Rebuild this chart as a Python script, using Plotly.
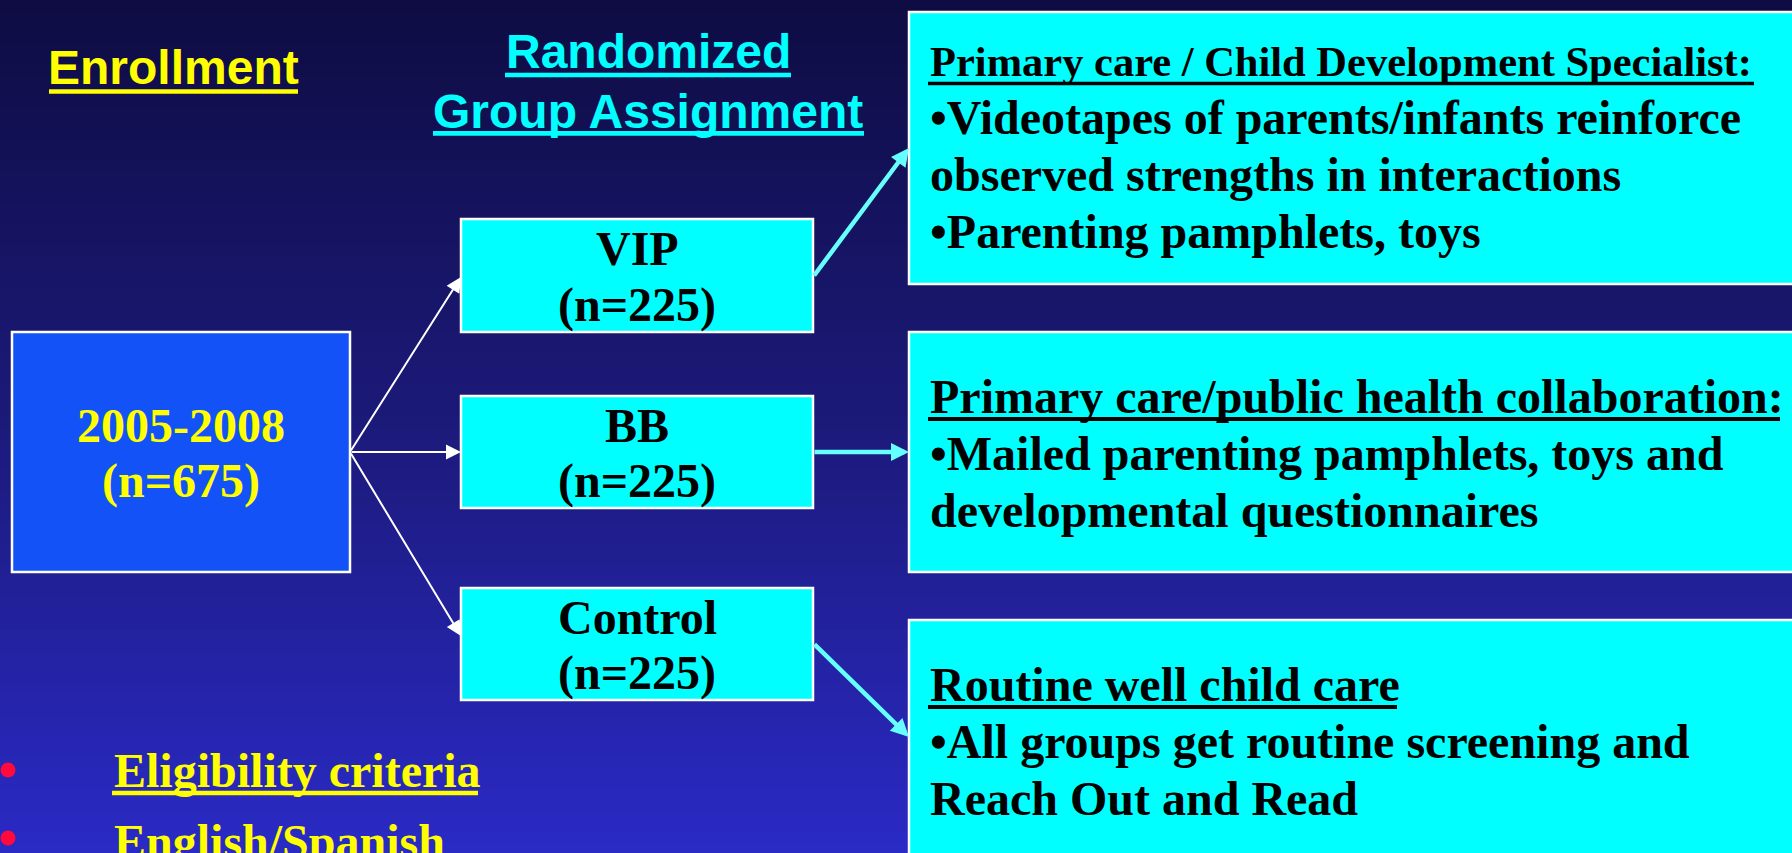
import plotly.graph_objects as go

# ---------------- data (text content) ----------------
enroll_title = "Enrollment"
assign_title = ["Randomized", "Group Assignment"]
enroll_period = "2005-2008"
enroll_n = 675
groups = ["VIP", "BB", "Control"]
group_n = [225, 225, 225]
program_titles = [
    "Primary care / Child Development Specialist:",
    "Primary care/public health collaboration:",
    "Routine well child care",
]
program_lines = [
    ["\u2022Videotapes of parents/infants reinforce",
     "observed strengths in interactions",
     "\u2022Parenting pamphlets, toys"],
    ["\u2022Mailed parenting pamphlets, toys and",
     "developmental questionnaires"],
    ["\u2022All groups get routine screening and",
     "Reach Out and Read"],
]
criteria_items = ["Eligibility criteria", "English/Spanish"]

# ---------------- layout / style constants ----------------
W, H = 1792, 853
SERIF = "Liberation Serif, Times New Roman, serif"
SANS = "Liberation Sans, Arial, sans-serif"
CYAN = "#00FFFF"
ARROW_CYAN = "#66FFFF"
YELLOW = "#FFFF00"

big_box = (12, 332, 350, 572)
mid_x = (461, 813)
mid_y = [(219, 332), (396, 508), (588, 700)]
right_x = (909, 1810)
right_y = [(12, 284), (332, 572), (620, 880)]
right_text_x = 928
title_baselines = [76, 412, 700]
title_sizes = [42.5, 48, 48]
line_step = 57

# underline decorations (x0, x1, y, thickness, color) for the underlined headings
underlines = [
    (49, 298, 91.5, 4.7, YELLOW),      # Enrollment
    (505, 791, 75.0, 4.5, CYAN),       # Randomized
    (433, 864, 133.3, 4.7, CYAN),      # Group Assignment
    (928, 1754, 83.5, 3.5, "black"),   # title 1
    (928, 1780, 419.0, 4.2, "black"),  # title 2
    (928, 1397, 707.0, 4.2, "black"),  # title 3
    (112, 478, 793.0, 4.7, YELLOW),    # Eligibility criteria
]

fig = go.Figure()
shapes = []
annotations = []

# background gradient (dark navy top -> brighter blue bottom)
top = (14, 12, 66)
mid = (28, 26, 122)
bot = (42, 42, 198)
n_strips = 80
for i in range(n_strips):
    t = (i + 0.5) / n_strips
    if t < 0.5:
        a, b, u = top, mid, t / 0.5
    else:
        a, b, u = mid, bot, (t - 0.5) / 0.5
    c = tuple(int(round(a[k] + (b[k] - a[k]) * u)) for k in range(3))
    y0 = H * i / n_strips
    y1 = H * (i + 1) / n_strips + 0.6
    shapes.append(dict(type="rect", xref="x", yref="y", x0=-5, x1=W + 5, y0=y0, y1=y1,
                       fillcolor="rgb(%d,%d,%d)" % c, line=dict(width=0), layer="below"))

# enrollment box
shapes.append(dict(type="rect", xref="x", yref="y", x0=big_box[0], x1=big_box[2],
                   y0=big_box[1], y1=big_box[3], fillcolor="#1252F6",
                   line=dict(color="white", width=2.5), layer="below"))
bcy = (big_box[1] + big_box[3]) / 2
bcx = (big_box[0] + big_box[2]) / 2
for txt, dy in [(enroll_period, -27), ("(n=%d)" % enroll_n, 29)]:
    annotations.append(dict(x=bcx, y=bcy + dy, xref="x", yref="y", text=txt, showarrow=False,
                            xanchor="center", yanchor="middle",
                            font=dict(family=SERIF, size=48, color=YELLOW, weight="bold")))

# group boxes
for g, n, (y0, y1) in zip(groups, group_n, mid_y):
    shapes.append(dict(type="rect", xref="x", yref="y", x0=mid_x[0], x1=mid_x[1], y0=y0, y1=y1,
                       fillcolor=CYAN, line=dict(color="white", width=2.5), layer="below"))
    cy = (y0 + y1) / 2
    cx = (mid_x[0] + mid_x[1]) / 2
    for txt, dy in [(g, -27), ("(n=%d)" % n, 29)]:
        annotations.append(dict(x=cx, y=cy + dy, xref="x", yref="y", text=txt, showarrow=False,
                                xanchor="center", yanchor="middle",
                                font=dict(family=SERIF, size=48, color="black", weight="bold")))

# program boxes
for k, (title, lines, (y0, y1)) in enumerate(zip(program_titles, program_lines, right_y)):
    shapes.append(dict(type="rect", xref="x", yref="y", x0=right_x[0], x1=right_x[1], y0=y0, y1=y1,
                       fillcolor=CYAN, line=dict(color="white", width=2.5), layer="below"))
    base = title_baselines[k]
    annotations.append(dict(x=right_text_x, y=base - 0.33 * title_sizes[k], xref="x", yref="y",
                            text=title, showarrow=False,
                            xanchor="left", yanchor="middle",
                            font=dict(family=SERIF, size=title_sizes[k], color="black", weight="bold")))
    for j, ln in enumerate(lines):
        b = base + line_step * (j + 1)
        annotations.append(dict(x=right_text_x, y=b - 16, xref="x", yref="y", text=ln,
                                showarrow=False, xanchor="left", yanchor="middle",
                                font=dict(family=SERIF, size=48, color="black", weight="bold")))

# headings
annotations.append(dict(x=173, y=67, xref="x", yref="y", text=enroll_title,
                        showarrow=False, xanchor="center", yanchor="middle",
                        font=dict(family=SANS, size=48, color=YELLOW, weight="bold")))
for txt, yy in zip(assign_title, [51, 111]):
    annotations.append(dict(x=648, y=yy, xref="x", yref="y", text=txt,
                            showarrow=False, xanchor="center", yanchor="middle",
                            font=dict(family=SANS, size=48, color=CYAN, weight="bold")))

# eligibility list
crit_y = [770, 841]
for j, (txt, yy) in enumerate(zip(criteria_items, crit_y)):
    annotations.append(dict(x=112, y=yy, xref="x", yref="y", text=txt,
                            showarrow=False, xanchor="left", yanchor="middle",
                            font=dict(family=SERIF, size=48, color=YELLOW, weight="bold")))
fig.add_trace(go.Scatter(x=[8, 8], y=[770, 838], mode="markers", cliponaxis=False,
                         marker=dict(size=15, color="#FF0A3C", line=dict(width=0)),
                         hoverinfo="skip", showlegend=False))

# underline strokes
for x0, x1, yy, th, col in underlines:
    shapes.append(dict(type="line", xref="x", yref="y", x0=x0, x1=x1, y0=yy, y1=yy,
                       line=dict(color=col, width=th), layer="above"))

# white arrows from enrollment box to groups
origin = (big_box[2], bcy)
tips = [(mid_x[0], 277), (mid_x[0], bcy), (mid_x[0], 636)]
for (tx, ty) in tips:
    annotations.append(dict(x=tx, y=ty, ax=origin[0], ay=origin[1], xref="x", yref="y",
                            axref="x", ayref="y", text="", showarrow=True,
                            arrowhead=2, arrowsize=1.5, arrowwidth=2, arrowcolor="white",
                            standoff=0, startstandoff=0))

# cyan arrows from groups to programs
cyan_arrows = [((mid_x[1], 277), (right_x[0], 148)),
               ((mid_x[1], bcy), (right_x[0], bcy)),
               ((mid_x[1], 643), (right_x[0], 737))]
for (sx, sy), (tx, ty) in cyan_arrows:
    annotations.append(dict(x=tx, y=ty, ax=sx, ay=sy, xref="x", yref="y",
                            axref="x", ayref="y", text="", showarrow=True,
                            arrowhead=2, arrowsize=0.8, arrowwidth=4.5, arrowcolor=ARROW_CYAN,
                            standoff=0, startstandoff=0))

fig.update_layout(
    width=W, height=H,
    margin=dict(l=0, r=0, t=0, b=0),
    paper_bgcolor="#1A1870", plot_bgcolor="#1A1870",
    xaxis=dict(range=[0, W], visible=False, fixedrange=True),
    yaxis=dict(range=[H, 0], visible=False, fixedrange=True),
    shapes=shapes, annotations=annotations, showlegend=False,
)

fig.write_html("out.html", config={"displayModeBar": False},
               post_script="document.body.style.margin='0';document.body.style.overflow='hidden';")
